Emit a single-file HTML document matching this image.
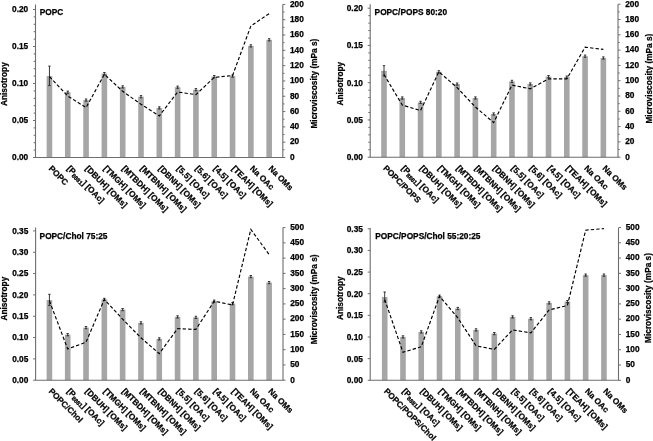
<!DOCTYPE html>
<html><head><meta charset="utf-8"><style>
html,body{margin:0;padding:0;background:#fff;width:653px;height:441px;overflow:hidden}
svg{display:block;will-change:transform;-webkit-font-smoothing:antialiased}
text{font-family:"Liberation Sans", sans-serif;font-weight:bold;font-size:8.3px;fill:#000;stroke:#000;stroke-width:0.25px}
</style></head><body>
<svg width="653" height="441" viewBox="0 0 653 441">
<rect width="653" height="441" fill="#fff"/>
<rect x="46.65" y="76.1" width="5.6" height="81.4" fill="#a6a6a6"/>
<rect x="64.96" y="92.2" width="5.6" height="65.3" fill="#a6a6a6"/>
<rect x="83.27" y="100.1" width="5.6" height="57.4" fill="#a6a6a6"/>
<rect x="101.58" y="73.6" width="5.6" height="83.9" fill="#a6a6a6"/>
<rect x="119.89" y="86.9" width="5.6" height="70.6" fill="#a6a6a6"/>
<rect x="138.2" y="96.7" width="5.6" height="60.8" fill="#a6a6a6"/>
<rect x="156.51" y="107.9" width="5.6" height="49.6" fill="#a6a6a6"/>
<rect x="174.82" y="87.2" width="5.6" height="70.3" fill="#a6a6a6"/>
<rect x="193.13" y="89.7" width="5.6" height="67.8" fill="#a6a6a6"/>
<rect x="211.44" y="76.6" width="5.6" height="80.9" fill="#a6a6a6"/>
<rect x="229.75" y="76.1" width="5.6" height="81.4" fill="#a6a6a6"/>
<rect x="248.06" y="45.9" width="5.6" height="111.6" fill="#a6a6a6"/>
<rect x="266.37" y="39.8" width="5.6" height="117.7" fill="#a6a6a6"/>
<path d="M49.45 66.1V85.6M48.25 66.1H50.65M48.25 85.6H50.65" stroke="#222" stroke-width="0.9" fill="none"/>
<path d="M67.76 91.1V93.3M66.56 91.1H68.96M66.56 93.3H68.96" stroke="#222" stroke-width="0.9" fill="none"/>
<path d="M86.07 99V101.2M84.87 99H87.27M84.87 101.2H87.27" stroke="#222" stroke-width="0.9" fill="none"/>
<path d="M104.38 72.5V74.7M103.18 72.5H105.58M103.18 74.7H105.58" stroke="#222" stroke-width="0.9" fill="none"/>
<path d="M122.69 85.8V88M121.49 85.8H123.89M121.49 88H123.89" stroke="#222" stroke-width="0.9" fill="none"/>
<path d="M141 95.6V97.8M139.8 95.6H142.2M139.8 97.8H142.2" stroke="#222" stroke-width="0.9" fill="none"/>
<path d="M159.31 106.8V109M158.11 106.8H160.51M158.11 109H160.51" stroke="#222" stroke-width="0.9" fill="none"/>
<path d="M177.62 86.1V88.3M176.42 86.1H178.82M176.42 88.3H178.82" stroke="#222" stroke-width="0.9" fill="none"/>
<path d="M195.93 88.6V90.8M194.73 88.6H197.13M194.73 90.8H197.13" stroke="#222" stroke-width="0.9" fill="none"/>
<path d="M214.24 75.5V77.7M213.04 75.5H215.44M213.04 77.7H215.44" stroke="#222" stroke-width="0.9" fill="none"/>
<path d="M232.55 75V77.2M231.35 75H233.75M231.35 77.2H233.75" stroke="#222" stroke-width="0.9" fill="none"/>
<path d="M250.86 44.8V47M249.66 44.8H252.06M249.66 47H252.06" stroke="#222" stroke-width="0.9" fill="none"/>
<path d="M269.17 38.7V40.9M267.97 38.7H270.37M267.97 40.9H270.37" stroke="#222" stroke-width="0.9" fill="none"/>
<path d="M35.5 4.4V157.5H282.8V4.4" stroke="#6e6e6e" stroke-width="1.1" fill="none"/>
<path d="M33 157.5H35.5" stroke="#6e6e6e" stroke-width="1"/>
<text x="28.2" y="160.4" text-anchor="end">0.00</text>
<path d="M33 120.5H35.5" stroke="#6e6e6e" stroke-width="1"/>
<text x="28.2" y="123.4" text-anchor="end">0.05</text>
<path d="M33 83.5H35.5" stroke="#6e6e6e" stroke-width="1"/>
<text x="28.2" y="86.4" text-anchor="end">0.10</text>
<path d="M33 46.5H35.5" stroke="#6e6e6e" stroke-width="1"/>
<text x="28.2" y="49.4" text-anchor="end">0.15</text>
<path d="M33 9.5H35.5" stroke="#6e6e6e" stroke-width="1"/>
<text x="28.2" y="12.4" text-anchor="end">0.20</text>
<path d="M33.6 150.1H35.5" stroke="#6e6e6e" stroke-width="1"/>
<path d="M33.6 142.7H35.5" stroke="#6e6e6e" stroke-width="1"/>
<path d="M33.6 135.3H35.5" stroke="#6e6e6e" stroke-width="1"/>
<path d="M33.6 127.9H35.5" stroke="#6e6e6e" stroke-width="1"/>
<path d="M33.6 113.1H35.5" stroke="#6e6e6e" stroke-width="1"/>
<path d="M33.6 105.7H35.5" stroke="#6e6e6e" stroke-width="1"/>
<path d="M33.6 98.3H35.5" stroke="#6e6e6e" stroke-width="1"/>
<path d="M33.6 90.9H35.5" stroke="#6e6e6e" stroke-width="1"/>
<path d="M33.6 76.1H35.5" stroke="#6e6e6e" stroke-width="1"/>
<path d="M33.6 68.7H35.5" stroke="#6e6e6e" stroke-width="1"/>
<path d="M33.6 61.3H35.5" stroke="#6e6e6e" stroke-width="1"/>
<path d="M33.6 53.9H35.5" stroke="#6e6e6e" stroke-width="1"/>
<path d="M33.6 39.1H35.5" stroke="#6e6e6e" stroke-width="1"/>
<path d="M33.6 31.7H35.5" stroke="#6e6e6e" stroke-width="1"/>
<path d="M33.6 24.3H35.5" stroke="#6e6e6e" stroke-width="1"/>
<path d="M33.6 16.9H35.5" stroke="#6e6e6e" stroke-width="1"/>
<path d="M282.8 157.5H285.3" stroke="#6e6e6e" stroke-width="1"/>
<text x="290" y="159.8">0</text>
<path d="M282.8 142.19H285.3" stroke="#6e6e6e" stroke-width="1"/>
<text x="290" y="144.49">20</text>
<path d="M282.8 126.88H285.3" stroke="#6e6e6e" stroke-width="1"/>
<text x="290" y="129.18">40</text>
<path d="M282.8 111.57H285.3" stroke="#6e6e6e" stroke-width="1"/>
<text x="290" y="113.87">60</text>
<path d="M282.8 96.26H285.3" stroke="#6e6e6e" stroke-width="1"/>
<text x="290" y="98.56">80</text>
<path d="M282.8 80.95H285.3" stroke="#6e6e6e" stroke-width="1"/>
<text x="290" y="83.25">100</text>
<path d="M282.8 65.64H285.3" stroke="#6e6e6e" stroke-width="1"/>
<text x="290" y="67.94">120</text>
<path d="M282.8 50.33H285.3" stroke="#6e6e6e" stroke-width="1"/>
<text x="290" y="52.63">140</text>
<path d="M282.8 35.02H285.3" stroke="#6e6e6e" stroke-width="1"/>
<text x="290" y="37.32">160</text>
<path d="M282.8 19.71H285.3" stroke="#6e6e6e" stroke-width="1"/>
<text x="290" y="22.01">180</text>
<path d="M282.8 4.4H285.3" stroke="#6e6e6e" stroke-width="1"/>
<text x="290" y="6.7">200</text>
<path d="M282.8 149.84H284.5" stroke="#6e6e6e" stroke-width="1"/>
<path d="M282.8 134.53H284.5" stroke="#6e6e6e" stroke-width="1"/>
<path d="M282.8 119.22H284.5" stroke="#6e6e6e" stroke-width="1"/>
<path d="M282.8 103.92H284.5" stroke="#6e6e6e" stroke-width="1"/>
<path d="M282.8 88.61H284.5" stroke="#6e6e6e" stroke-width="1"/>
<path d="M282.8 73.3H284.5" stroke="#6e6e6e" stroke-width="1"/>
<path d="M282.8 57.98H284.5" stroke="#6e6e6e" stroke-width="1"/>
<path d="M282.8 42.68H284.5" stroke="#6e6e6e" stroke-width="1"/>
<path d="M282.8 27.37H284.5" stroke="#6e6e6e" stroke-width="1"/>
<path d="M282.8 12.06H284.5" stroke="#6e6e6e" stroke-width="1"/>
<polyline points="49.45,76.6 67.76,96 86.07,107.6 104.38,74.3 122.69,91.3 141,104.3 159.31,115.9 177.62,92 195.93,94.6 214.24,77.4 232.55,75.5 250.86,26 269.17,13.6" fill="none" stroke="#000" stroke-width="1.15" stroke-dasharray="3.4 2.1"/>
<text x="39.7" y="15.2" font-size="8.45">POPC</text>
<text transform="translate(3.9 84.1) rotate(-90)" text-anchor="middle" y="2.9">Anisotropy</text>
<text transform="translate(314 83.6) rotate(-90)" text-anchor="middle" y="2.9" font-size="8">Microviscosity (mPa s)</text>
<text transform="translate(50.25 167) rotate(45)" y="2.9">POPC</text>
<text transform="translate(68.56 167) rotate(45)" y="2.9">[P<tspan font-size="5.8" dy="1.6">8881</tspan><tspan dy="-1.6">] [OAc]</tspan></text>
<text transform="translate(86.87 167) rotate(45)" y="2.9">[DBUH] [OMs]</text>
<text transform="translate(105.18 167) rotate(45)" y="2.9">[TMGH] [OMs]</text>
<text transform="translate(123.49 167) rotate(45)" y="2.9">[MTBDH] [OMs]</text>
<text transform="translate(141.8 167) rotate(45)" y="2.9">[MTBNH] [OMs]</text>
<text transform="translate(160.11 167) rotate(45)" y="2.9">[DBNH] [OMs]</text>
<text transform="translate(178.42 167) rotate(45)" y="2.9">[5.5] [OAc]</text>
<text transform="translate(196.73 167) rotate(45)" y="2.9">[5.6] [OAc]</text>
<text transform="translate(215.04 167) rotate(45)" y="2.9">[4.5] [OAc]</text>
<text transform="translate(233.35 167) rotate(45)" y="2.9">[TEAH] [OMs]</text>
<text transform="translate(251.66 167) rotate(45)" y="2.9">Na OAc</text>
<text transform="translate(269.97 167) rotate(45)" y="2.9">Na OMs</text>
<rect x="381.2" y="70.8" width="5.6" height="86.4" fill="#a6a6a6"/>
<rect x="399.48" y="98" width="5.6" height="59.2" fill="#a6a6a6"/>
<rect x="417.76" y="102.4" width="5.6" height="54.8" fill="#a6a6a6"/>
<rect x="436.04" y="71.8" width="5.6" height="85.4" fill="#a6a6a6"/>
<rect x="454.32" y="84.1" width="5.6" height="73.1" fill="#a6a6a6"/>
<rect x="472.6" y="98" width="5.6" height="59.2" fill="#a6a6a6"/>
<rect x="490.88" y="114" width="5.6" height="43.2" fill="#a6a6a6"/>
<rect x="509.16" y="81.4" width="5.6" height="75.8" fill="#a6a6a6"/>
<rect x="527.44" y="84" width="5.6" height="73.2" fill="#a6a6a6"/>
<rect x="545.72" y="76.6" width="5.6" height="80.6" fill="#a6a6a6"/>
<rect x="564" y="77.1" width="5.6" height="80.1" fill="#a6a6a6"/>
<rect x="582.28" y="56.2" width="5.6" height="101" fill="#a6a6a6"/>
<rect x="600.56" y="58" width="5.6" height="99.2" fill="#a6a6a6"/>
<path d="M384 65.7V76M382.8 65.7H385.2M382.8 76H385.2" stroke="#222" stroke-width="0.9" fill="none"/>
<path d="M402.28 96.9V99.1M401.08 96.9H403.48M401.08 99.1H403.48" stroke="#222" stroke-width="0.9" fill="none"/>
<path d="M420.56 101.3V103.5M419.36 101.3H421.76M419.36 103.5H421.76" stroke="#222" stroke-width="0.9" fill="none"/>
<path d="M438.84 70.7V72.9M437.64 70.7H440.04M437.64 72.9H440.04" stroke="#222" stroke-width="0.9" fill="none"/>
<path d="M457.12 83V85.2M455.92 83H458.32M455.92 85.2H458.32" stroke="#222" stroke-width="0.9" fill="none"/>
<path d="M475.4 96.9V99.1M474.2 96.9H476.6M474.2 99.1H476.6" stroke="#222" stroke-width="0.9" fill="none"/>
<path d="M493.68 112.9V115.1M492.48 112.9H494.88M492.48 115.1H494.88" stroke="#222" stroke-width="0.9" fill="none"/>
<path d="M511.96 80.3V82.5M510.76 80.3H513.16M510.76 82.5H513.16" stroke="#222" stroke-width="0.9" fill="none"/>
<path d="M530.24 82.9V85.1M529.04 82.9H531.44M529.04 85.1H531.44" stroke="#222" stroke-width="0.9" fill="none"/>
<path d="M548.52 75.5V77.7M547.32 75.5H549.72M547.32 77.7H549.72" stroke="#222" stroke-width="0.9" fill="none"/>
<path d="M566.8 76V78.2M565.6 76H568M565.6 78.2H568" stroke="#222" stroke-width="0.9" fill="none"/>
<path d="M585.08 55.1V57.3M583.88 55.1H586.28M583.88 57.3H586.28" stroke="#222" stroke-width="0.9" fill="none"/>
<path d="M603.36 56.9V59.1M602.16 56.9H604.56M602.16 59.1H604.56" stroke="#222" stroke-width="0.9" fill="none"/>
<path d="M370.2 4.2V157.2H618V4.2" stroke="#6e6e6e" stroke-width="1.1" fill="none"/>
<path d="M367.7 157.2H370.2" stroke="#6e6e6e" stroke-width="1"/>
<text x="362.9" y="160.1" text-anchor="end">0.00</text>
<path d="M367.7 119.95H370.2" stroke="#6e6e6e" stroke-width="1"/>
<text x="362.9" y="122.85" text-anchor="end">0.05</text>
<path d="M367.7 82.7H370.2" stroke="#6e6e6e" stroke-width="1"/>
<text x="362.9" y="85.6" text-anchor="end">0.10</text>
<path d="M367.7 45.45H370.2" stroke="#6e6e6e" stroke-width="1"/>
<text x="362.9" y="48.35" text-anchor="end">0.15</text>
<path d="M367.7 8.2H370.2" stroke="#6e6e6e" stroke-width="1"/>
<text x="362.9" y="11.1" text-anchor="end">0.20</text>
<path d="M368.3 149.75H370.2" stroke="#6e6e6e" stroke-width="1"/>
<path d="M368.3 142.3H370.2" stroke="#6e6e6e" stroke-width="1"/>
<path d="M368.3 134.85H370.2" stroke="#6e6e6e" stroke-width="1"/>
<path d="M368.3 127.4H370.2" stroke="#6e6e6e" stroke-width="1"/>
<path d="M368.3 112.5H370.2" stroke="#6e6e6e" stroke-width="1"/>
<path d="M368.3 105.05H370.2" stroke="#6e6e6e" stroke-width="1"/>
<path d="M368.3 97.6H370.2" stroke="#6e6e6e" stroke-width="1"/>
<path d="M368.3 90.15H370.2" stroke="#6e6e6e" stroke-width="1"/>
<path d="M368.3 75.25H370.2" stroke="#6e6e6e" stroke-width="1"/>
<path d="M368.3 67.8H370.2" stroke="#6e6e6e" stroke-width="1"/>
<path d="M368.3 60.35H370.2" stroke="#6e6e6e" stroke-width="1"/>
<path d="M368.3 52.9H370.2" stroke="#6e6e6e" stroke-width="1"/>
<path d="M368.3 38H370.2" stroke="#6e6e6e" stroke-width="1"/>
<path d="M368.3 30.55H370.2" stroke="#6e6e6e" stroke-width="1"/>
<path d="M368.3 23.1H370.2" stroke="#6e6e6e" stroke-width="1"/>
<path d="M368.3 15.65H370.2" stroke="#6e6e6e" stroke-width="1"/>
<path d="M618 157.2H620.5" stroke="#6e6e6e" stroke-width="1"/>
<text x="625.2" y="159.5">0</text>
<path d="M618 141.9H620.5" stroke="#6e6e6e" stroke-width="1"/>
<text x="625.2" y="144.2">20</text>
<path d="M618 126.6H620.5" stroke="#6e6e6e" stroke-width="1"/>
<text x="625.2" y="128.9">40</text>
<path d="M618 111.3H620.5" stroke="#6e6e6e" stroke-width="1"/>
<text x="625.2" y="113.6">60</text>
<path d="M618 96H620.5" stroke="#6e6e6e" stroke-width="1"/>
<text x="625.2" y="98.3">80</text>
<path d="M618 80.7H620.5" stroke="#6e6e6e" stroke-width="1"/>
<text x="625.2" y="83">100</text>
<path d="M618 65.4H620.5" stroke="#6e6e6e" stroke-width="1"/>
<text x="625.2" y="67.7">120</text>
<path d="M618 50.1H620.5" stroke="#6e6e6e" stroke-width="1"/>
<text x="625.2" y="52.4">140</text>
<path d="M618 34.8H620.5" stroke="#6e6e6e" stroke-width="1"/>
<text x="625.2" y="37.1">160</text>
<path d="M618 19.5H620.5" stroke="#6e6e6e" stroke-width="1"/>
<text x="625.2" y="21.8">180</text>
<path d="M618 4.2H620.5" stroke="#6e6e6e" stroke-width="1"/>
<text x="625.2" y="6.5">200</text>
<path d="M618 149.55H619.7" stroke="#6e6e6e" stroke-width="1"/>
<path d="M618 134.25H619.7" stroke="#6e6e6e" stroke-width="1"/>
<path d="M618 118.95H619.7" stroke="#6e6e6e" stroke-width="1"/>
<path d="M618 103.65H619.7" stroke="#6e6e6e" stroke-width="1"/>
<path d="M618 88.35H619.7" stroke="#6e6e6e" stroke-width="1"/>
<path d="M618 73.05H619.7" stroke="#6e6e6e" stroke-width="1"/>
<path d="M618 57.75H619.7" stroke="#6e6e6e" stroke-width="1"/>
<path d="M618 42.45H619.7" stroke="#6e6e6e" stroke-width="1"/>
<path d="M618 27.15H619.7" stroke="#6e6e6e" stroke-width="1"/>
<path d="M618 11.85H619.7" stroke="#6e6e6e" stroke-width="1"/>
<polyline points="384,74.5 402.28,105.1 420.56,110.6 438.84,71.8 457.12,87.6 475.4,107 493.68,122.6 511.96,85.1 530.24,88.8 548.52,78.9 566.8,78.9 585.08,47.2 603.36,49.4" fill="none" stroke="#000" stroke-width="1.15" stroke-dasharray="3.4 2.1"/>
<text x="374.6" y="15.2" font-size="8.45">POPC/POPS 80:20</text>
<text transform="translate(339.6 83.7) rotate(-90)" text-anchor="middle" y="2.9">Anisotropy</text>
<text transform="translate(649 78.6) rotate(-90)" text-anchor="middle" y="2.9" font-size="8">Microviscosity (mPa s)</text>
<text transform="translate(384.8 166.7) rotate(45)" y="2.9">POPC/POPS</text>
<text transform="translate(403.08 166.7) rotate(45)" y="2.9">[P<tspan font-size="5.8" dy="1.6">8881</tspan><tspan dy="-1.6">] [OAc]</tspan></text>
<text transform="translate(421.36 166.7) rotate(45)" y="2.9">[DBUH] [OMs]</text>
<text transform="translate(439.64 166.7) rotate(45)" y="2.9">[TMGH] [OMs]</text>
<text transform="translate(457.92 166.7) rotate(45)" y="2.9">[MTBDH] [OMs]</text>
<text transform="translate(476.2 166.7) rotate(45)" y="2.9">[MTBNH] [OMs]</text>
<text transform="translate(494.48 166.7) rotate(45)" y="2.9">[DBNH] [OMs]</text>
<text transform="translate(512.76 166.7) rotate(45)" y="2.9">[5.5] [OAc]</text>
<text transform="translate(531.04 166.7) rotate(45)" y="2.9">[5.6] [OAc]</text>
<text transform="translate(549.32 166.7) rotate(45)" y="2.9">[4.5] [OAc]</text>
<text transform="translate(567.6 166.7) rotate(45)" y="2.9">[TEAH] [OMs]</text>
<text transform="translate(585.88 166.7) rotate(45)" y="2.9">Na OAc</text>
<text transform="translate(604.16 166.7) rotate(45)" y="2.9">Na OMs</text>
<rect x="46.6" y="300" width="5.6" height="80.2" fill="#a6a6a6"/>
<rect x="64.91" y="334.7" width="5.6" height="45.5" fill="#a6a6a6"/>
<rect x="83.22" y="327.6" width="5.6" height="52.6" fill="#a6a6a6"/>
<rect x="101.53" y="299.4" width="5.6" height="80.8" fill="#a6a6a6"/>
<rect x="119.84" y="309.6" width="5.6" height="70.6" fill="#a6a6a6"/>
<rect x="138.15" y="322.9" width="5.6" height="57.3" fill="#a6a6a6"/>
<rect x="156.46" y="338.9" width="5.6" height="41.3" fill="#a6a6a6"/>
<rect x="174.77" y="316.9" width="5.6" height="63.3" fill="#a6a6a6"/>
<rect x="193.08" y="317.4" width="5.6" height="62.8" fill="#a6a6a6"/>
<rect x="211.39" y="301.2" width="5.6" height="79" fill="#a6a6a6"/>
<rect x="229.7" y="303.7" width="5.6" height="76.5" fill="#a6a6a6"/>
<rect x="248.01" y="276.6" width="5.6" height="103.6" fill="#a6a6a6"/>
<rect x="266.32" y="282.6" width="5.6" height="97.6" fill="#a6a6a6"/>
<path d="M49.4 294.3V305.5M48.2 294.3H50.6M48.2 305.5H50.6" stroke="#222" stroke-width="0.9" fill="none"/>
<path d="M67.71 333.6V335.8M66.51 333.6H68.91M66.51 335.8H68.91" stroke="#222" stroke-width="0.9" fill="none"/>
<path d="M86.02 326.5V328.7M84.82 326.5H87.22M84.82 328.7H87.22" stroke="#222" stroke-width="0.9" fill="none"/>
<path d="M104.33 298.3V300.5M103.13 298.3H105.53M103.13 300.5H105.53" stroke="#222" stroke-width="0.9" fill="none"/>
<path d="M122.64 308.5V310.7M121.44 308.5H123.84M121.44 310.7H123.84" stroke="#222" stroke-width="0.9" fill="none"/>
<path d="M140.95 321.8V324M139.75 321.8H142.15M139.75 324H142.15" stroke="#222" stroke-width="0.9" fill="none"/>
<path d="M159.26 337.8V340M158.06 337.8H160.46M158.06 340H160.46" stroke="#222" stroke-width="0.9" fill="none"/>
<path d="M177.57 315.8V318M176.37 315.8H178.77M176.37 318H178.77" stroke="#222" stroke-width="0.9" fill="none"/>
<path d="M195.88 316.3V318.5M194.68 316.3H197.08M194.68 318.5H197.08" stroke="#222" stroke-width="0.9" fill="none"/>
<path d="M214.19 300.1V302.3M212.99 300.1H215.39M212.99 302.3H215.39" stroke="#222" stroke-width="0.9" fill="none"/>
<path d="M232.5 302.6V304.8M231.3 302.6H233.7M231.3 304.8H233.7" stroke="#222" stroke-width="0.9" fill="none"/>
<path d="M250.81 275.5V277.7M249.61 275.5H252.01M249.61 277.7H252.01" stroke="#222" stroke-width="0.9" fill="none"/>
<path d="M269.12 281.5V283.7M267.92 281.5H270.32M267.92 283.7H270.32" stroke="#222" stroke-width="0.9" fill="none"/>
<path d="M35.6 227.5V380.2H283V227.5" stroke="#6e6e6e" stroke-width="1.1" fill="none"/>
<path d="M33.1 380.2H35.6" stroke="#6e6e6e" stroke-width="1"/>
<text x="28.3" y="383.1" text-anchor="end">0.00</text>
<path d="M33.1 358.87H35.6" stroke="#6e6e6e" stroke-width="1"/>
<text x="28.3" y="361.77" text-anchor="end">0.05</text>
<path d="M33.1 337.54H35.6" stroke="#6e6e6e" stroke-width="1"/>
<text x="28.3" y="340.44" text-anchor="end">0.10</text>
<path d="M33.1 316.21H35.6" stroke="#6e6e6e" stroke-width="1"/>
<text x="28.3" y="319.11" text-anchor="end">0.15</text>
<path d="M33.1 294.89H35.6" stroke="#6e6e6e" stroke-width="1"/>
<text x="28.3" y="297.79" text-anchor="end">0.20</text>
<path d="M33.1 273.56H35.6" stroke="#6e6e6e" stroke-width="1"/>
<text x="28.3" y="276.46" text-anchor="end">0.25</text>
<path d="M33.1 252.23H35.6" stroke="#6e6e6e" stroke-width="1"/>
<text x="28.3" y="255.13" text-anchor="end">0.30</text>
<path d="M33.1 230.9H35.6" stroke="#6e6e6e" stroke-width="1"/>
<text x="28.3" y="233.8" text-anchor="end">0.35</text>
<path d="M283 380.2H285.5" stroke="#6e6e6e" stroke-width="1"/>
<text x="290.2" y="382.5">0</text>
<path d="M283 364.94H285.5" stroke="#6e6e6e" stroke-width="1"/>
<text x="290.2" y="367.24">50</text>
<path d="M283 349.68H285.5" stroke="#6e6e6e" stroke-width="1"/>
<text x="290.2" y="351.98">100</text>
<path d="M283 334.42H285.5" stroke="#6e6e6e" stroke-width="1"/>
<text x="290.2" y="336.72">150</text>
<path d="M283 319.16H285.5" stroke="#6e6e6e" stroke-width="1"/>
<text x="290.2" y="321.46">200</text>
<path d="M283 303.9H285.5" stroke="#6e6e6e" stroke-width="1"/>
<text x="290.2" y="306.2">250</text>
<path d="M283 288.64H285.5" stroke="#6e6e6e" stroke-width="1"/>
<text x="290.2" y="290.94">300</text>
<path d="M283 273.38H285.5" stroke="#6e6e6e" stroke-width="1"/>
<text x="290.2" y="275.68">350</text>
<path d="M283 258.12H285.5" stroke="#6e6e6e" stroke-width="1"/>
<text x="290.2" y="260.42">400</text>
<path d="M283 242.86H285.5" stroke="#6e6e6e" stroke-width="1"/>
<text x="290.2" y="245.16">450</text>
<path d="M283 227.6H285.5" stroke="#6e6e6e" stroke-width="1"/>
<text x="290.2" y="229.9">500</text>
<polyline points="49.4,300.8 67.71,349 86.02,342.2 104.33,299.4 122.64,319.2 140.95,337.8 159.26,353.6 177.57,328.6 195.88,329.4 214.19,301.2 232.5,305 250.81,229.4 269.12,254.5" fill="none" stroke="#000" stroke-width="1.15" stroke-dasharray="3.4 2.1"/>
<text x="39.6" y="238.7" font-size="8.45">POPC/Chol 75:25</text>
<text transform="translate(3.9 298.6) rotate(-90)" text-anchor="middle" y="2.9">Anisotropy</text>
<text transform="translate(314 299.4) rotate(-90)" text-anchor="middle" y="2.9" font-size="8">Microviscosity (mPa s)</text>
<text transform="translate(50.2 389.7) rotate(45)" y="2.9">POPC/Chol</text>
<text transform="translate(68.51 389.7) rotate(45)" y="2.9">[P<tspan font-size="5.8" dy="1.6">8881</tspan><tspan dy="-1.6">] [OAc]</tspan></text>
<text transform="translate(86.82 389.7) rotate(45)" y="2.9">[DBUH] [OMs]</text>
<text transform="translate(105.13 389.7) rotate(45)" y="2.9">[TMGH] [OMs]</text>
<text transform="translate(123.44 389.7) rotate(45)" y="2.9">[MTBDH] [OMs]</text>
<text transform="translate(141.75 389.7) rotate(45)" y="2.9">[MTBNH] [OMs]</text>
<text transform="translate(160.06 389.7) rotate(45)" y="2.9">[DBNH] [OMs]</text>
<text transform="translate(178.37 389.7) rotate(45)" y="2.9">[5.5] [OAc]</text>
<text transform="translate(196.68 389.7) rotate(45)" y="2.9">[5.6] [OAc]</text>
<text transform="translate(214.99 389.7) rotate(45)" y="2.9">[4.5] [OAc]</text>
<text transform="translate(233.3 389.7) rotate(45)" y="2.9">[TEAH] [OMs]</text>
<text transform="translate(251.61 389.7) rotate(45)" y="2.9">Na OAc</text>
<text transform="translate(269.92 389.7) rotate(45)" y="2.9">Na OMs</text>
<rect x="381.9" y="297" width="5.6" height="83.3" fill="#a6a6a6"/>
<rect x="400.17" y="336.9" width="5.6" height="43.4" fill="#a6a6a6"/>
<rect x="418.44" y="331.9" width="5.6" height="48.4" fill="#a6a6a6"/>
<rect x="436.71" y="296.2" width="5.6" height="84.1" fill="#a6a6a6"/>
<rect x="454.98" y="308.5" width="5.6" height="71.8" fill="#a6a6a6"/>
<rect x="473.25" y="329.9" width="5.6" height="50.4" fill="#a6a6a6"/>
<rect x="491.52" y="333.6" width="5.6" height="46.7" fill="#a6a6a6"/>
<rect x="509.79" y="316.9" width="5.6" height="63.4" fill="#a6a6a6"/>
<rect x="528.06" y="318.7" width="5.6" height="61.6" fill="#a6a6a6"/>
<rect x="546.33" y="302.9" width="5.6" height="77.4" fill="#a6a6a6"/>
<rect x="564.6" y="301.6" width="5.6" height="78.7" fill="#a6a6a6"/>
<rect x="582.87" y="275.1" width="5.6" height="105.2" fill="#a6a6a6"/>
<rect x="601.14" y="275.1" width="5.6" height="105.2" fill="#a6a6a6"/>
<path d="M384.7 292V302M383.5 292H385.9M383.5 302H385.9" stroke="#222" stroke-width="0.9" fill="none"/>
<path d="M402.97 335.8V338M401.77 335.8H404.17M401.77 338H404.17" stroke="#222" stroke-width="0.9" fill="none"/>
<path d="M421.24 330.8V333M420.04 330.8H422.44M420.04 333H422.44" stroke="#222" stroke-width="0.9" fill="none"/>
<path d="M439.51 295.1V297.3M438.31 295.1H440.71M438.31 297.3H440.71" stroke="#222" stroke-width="0.9" fill="none"/>
<path d="M457.78 307.4V309.6M456.58 307.4H458.98M456.58 309.6H458.98" stroke="#222" stroke-width="0.9" fill="none"/>
<path d="M476.05 328.8V331M474.85 328.8H477.25M474.85 331H477.25" stroke="#222" stroke-width="0.9" fill="none"/>
<path d="M494.32 332.5V334.7M493.12 332.5H495.52M493.12 334.7H495.52" stroke="#222" stroke-width="0.9" fill="none"/>
<path d="M512.59 315.8V318M511.39 315.8H513.79M511.39 318H513.79" stroke="#222" stroke-width="0.9" fill="none"/>
<path d="M530.86 317.6V319.8M529.66 317.6H532.06M529.66 319.8H532.06" stroke="#222" stroke-width="0.9" fill="none"/>
<path d="M549.13 301.8V304M547.93 301.8H550.33M547.93 304H550.33" stroke="#222" stroke-width="0.9" fill="none"/>
<path d="M567.4 300.5V302.7M566.2 300.5H568.6M566.2 302.7H568.6" stroke="#222" stroke-width="0.9" fill="none"/>
<path d="M585.67 274V276.2M584.47 274H586.87M584.47 276.2H586.87" stroke="#222" stroke-width="0.9" fill="none"/>
<path d="M603.94 274V276.2M602.74 274H605.14M602.74 276.2H605.14" stroke="#222" stroke-width="0.9" fill="none"/>
<path d="M370.2 227.9V380.3H618.5V227.9" stroke="#6e6e6e" stroke-width="1.1" fill="none"/>
<path d="M367.7 380.3H370.2" stroke="#6e6e6e" stroke-width="1"/>
<text x="362.9" y="383.2" text-anchor="end">0.00</text>
<path d="M367.7 358.66H370.2" stroke="#6e6e6e" stroke-width="1"/>
<text x="362.9" y="361.56" text-anchor="end">0.05</text>
<path d="M367.7 337.01H370.2" stroke="#6e6e6e" stroke-width="1"/>
<text x="362.9" y="339.91" text-anchor="end">0.10</text>
<path d="M367.7 315.37H370.2" stroke="#6e6e6e" stroke-width="1"/>
<text x="362.9" y="318.27" text-anchor="end">0.15</text>
<path d="M367.7 293.73H370.2" stroke="#6e6e6e" stroke-width="1"/>
<text x="362.9" y="296.63" text-anchor="end">0.20</text>
<path d="M367.7 272.09H370.2" stroke="#6e6e6e" stroke-width="1"/>
<text x="362.9" y="274.99" text-anchor="end">0.25</text>
<path d="M367.7 250.44H370.2" stroke="#6e6e6e" stroke-width="1"/>
<text x="362.9" y="253.34" text-anchor="end">0.30</text>
<path d="M367.7 228.8H370.2" stroke="#6e6e6e" stroke-width="1"/>
<text x="362.9" y="231.7" text-anchor="end">0.35</text>
<path d="M618.5 380.3H621" stroke="#6e6e6e" stroke-width="1"/>
<text x="625.7" y="382.6">0</text>
<path d="M618.5 365.02H621" stroke="#6e6e6e" stroke-width="1"/>
<text x="625.7" y="367.32">50</text>
<path d="M618.5 349.74H621" stroke="#6e6e6e" stroke-width="1"/>
<text x="625.7" y="352.04">100</text>
<path d="M618.5 334.46H621" stroke="#6e6e6e" stroke-width="1"/>
<text x="625.7" y="336.76">150</text>
<path d="M618.5 319.18H621" stroke="#6e6e6e" stroke-width="1"/>
<text x="625.7" y="321.48">200</text>
<path d="M618.5 303.9H621" stroke="#6e6e6e" stroke-width="1"/>
<text x="625.7" y="306.2">250</text>
<path d="M618.5 288.62H621" stroke="#6e6e6e" stroke-width="1"/>
<text x="625.7" y="290.92">300</text>
<path d="M618.5 273.34H621" stroke="#6e6e6e" stroke-width="1"/>
<text x="625.7" y="275.64">350</text>
<path d="M618.5 258.06H621" stroke="#6e6e6e" stroke-width="1"/>
<text x="625.7" y="260.36">400</text>
<path d="M618.5 242.78H621" stroke="#6e6e6e" stroke-width="1"/>
<text x="625.7" y="245.08">450</text>
<path d="M618.5 227.5H621" stroke="#6e6e6e" stroke-width="1"/>
<text x="625.7" y="229.8">500</text>
<polyline points="384.7,299.5 402.97,352.3 421.24,346.8 439.51,296.2 457.78,317.8 476.05,345.8 494.32,349.4 512.59,329.9 530.86,332.9 549.13,310 567.4,305.5 585.67,230.2 603.94,228.6" fill="none" stroke="#000" stroke-width="1.15" stroke-dasharray="3.4 2.1"/>
<text x="375.3" y="238.7" font-size="8.45">POPC/POPS/Chol 55:20:25</text>
<text transform="translate(339.6 298.2) rotate(-90)" text-anchor="middle" y="2.9">Anisotropy</text>
<text transform="translate(647.9 298) rotate(-90)" text-anchor="middle" y="2.9" font-size="8">Microviscosity (mPa s)</text>
<text transform="translate(385.5 389.8) rotate(45)" y="2.9">POPC/POPS/Chol</text>
<text transform="translate(403.77 389.8) rotate(45)" y="2.9">[P<tspan font-size="5.8" dy="1.6">8881</tspan><tspan dy="-1.6">] [OAc]</tspan></text>
<text transform="translate(422.04 389.8) rotate(45)" y="2.9">[DBUH] [OMs]</text>
<text transform="translate(440.31 389.8) rotate(45)" y="2.9">[TMGH] [OMs]</text>
<text transform="translate(458.58 389.8) rotate(45)" y="2.9">[MTBDH] [OMs]</text>
<text transform="translate(476.85 389.8) rotate(45)" y="2.9">[MTBNH] [OMs]</text>
<text transform="translate(495.12 389.8) rotate(45)" y="2.9">[DBNH] [OMs]</text>
<text transform="translate(513.39 389.8) rotate(45)" y="2.9">[5.5] [OAc]</text>
<text transform="translate(531.66 389.8) rotate(45)" y="2.9">[5.6] [OAc]</text>
<text transform="translate(549.93 389.8) rotate(45)" y="2.9">[4.5] [OAc]</text>
<text transform="translate(568.2 389.8) rotate(45)" y="2.9">[TEAH] [OMs]</text>
<text transform="translate(586.47 389.8) rotate(45)" y="2.9">Na OAc</text>
<text transform="translate(604.74 389.8) rotate(45)" y="2.9">Na OMs</text>
</svg>
</body></html>
